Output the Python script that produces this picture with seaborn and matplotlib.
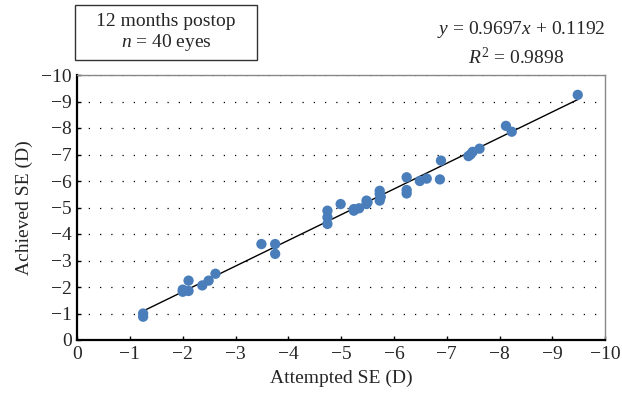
import numpy as np
import pandas as pd
import matplotlib
matplotlib.use("Agg")
import matplotlib.pyplot as plt
import seaborn as sns
from matplotlib.patches import Rectangle

# data (diopters)
attempted = [-1.25, -1.25, -2.0, -2.11, -2.11, -2.37, -2.49, -2.62, -2.0, -3.49,
             -3.75, -3.75, -4.74, -4.74, -4.74, -4.99, -5.24, -5.24, -5.34, -5.48,
             -5.48, -5.73, -5.73, -5.73, -5.75, -6.24, -6.24, -6.24, -6.49, -6.62,
             -6.87, -6.89, -7.41, -7.49, -7.45, -7.62, -8.12, -8.23, -9.48, -5.5]
achieved = [-1.0, -0.88, -1.82, -1.85, -2.24, -2.06, -2.24, -2.5, -1.9, -3.62,
            -3.62, -3.25, -4.88, -4.63, -4.38, -5.13, -4.94, -4.88, -4.97, -5.26,
            -5.13, -5.63, -5.51, -5.26, -5.4, -6.14, -5.66, -5.53, -6.0, -6.09,
            -6.06, -6.77, -6.94, -7.1, -7.0, -7.22, -8.08, -7.86, -9.25, -5.2]
slope = 0.9697
intercept = 0.1192
r2 = 0.9898
ticks = list(range(0, -11, -1))

df = pd.DataFrame({"Attempted": attempted, "Achieved": achieved})

sns.set_theme(style="white")
plt.rcParams["font.family"] = ["Liberation Serif", "DejaVu Serif"]
plt.rcParams["mathtext.fontset"] = "custom"
plt.rcParams["mathtext.rm"] = "Liberation Serif"
plt.rcParams["mathtext.it"] = "Liberation Serif:italic"

fs = 14

fig = plt.figure(figsize=(6.22, 4.0), dpi=100)
ax = fig.add_axes([0.124, 0.15, 0.849, 0.6625])

# dotted horizontal guide lines
for t in ticks[1:]:
    ax.axhline(t, color="black", lw=0.9, ls=(0, (1, 8)), zorder=0)

sns.scatterplot(data=df, x="Attempted", y="Achieved", ax=ax, color="#4a7ebb",
                s=55, edgecolor="none", zorder=3)

# trend line
xs = np.array([min(attempted), max(attempted)])
ax.plot(xs, slope * xs + intercept, color="black", lw=1.0, zorder=2)

ax.set_xlim(0, -10)
ax.set_ylim(0, -10)
ax.set_xticks(ticks)
ax.set_yticks(ticks)
ax.set_xticklabels([str(t).replace("-", "\u2212") for t in ticks])
ax.set_yticklabels([str(t).replace("-", "\u2212") for t in ticks])
ax.tick_params(direction="in", length=3, width=1, labelsize=fs, color="black",
               bottom=True, left=True, pad=4)
ax.set_xlabel("Attempted SE (D)", fontsize=fs, labelpad=5)
ax.set_ylabel("Achieved SE (D)", fontsize=fs, labelpad=6)

for side in ["left", "bottom"]:
    ax.spines[side].set_color("black")
    ax.spines[side].set_linewidth(1.6)
for side in ["top", "right"]:
    ax.spines[side].set_color("#888888")
    ax.spines[side].set_linewidth(1.0)

# boxed annotation
fig.patches.append(Rectangle((0.1206, 0.85), 0.2926, 0.1375, transform=fig.transFigure,
                             fc="white", ec="#333333", lw=1.0))
fig.text(0.267, 0.918, "12 months postop\n$n$ = 40 eyes", ha="center", va="center",
         fontsize=fs, linespacing=1.1)

fig.text(0.973, 0.925, "$y$ = %.4f$x$ + %.4f" % (slope, intercept), ha="right",
         va="center", fontsize=fs)
fig.text(0.83, 0.857, "$R^2$ = %.4f" % r2, ha="center", va="center", fontsize=fs)

fig.savefig("out.png", dpi=100)
